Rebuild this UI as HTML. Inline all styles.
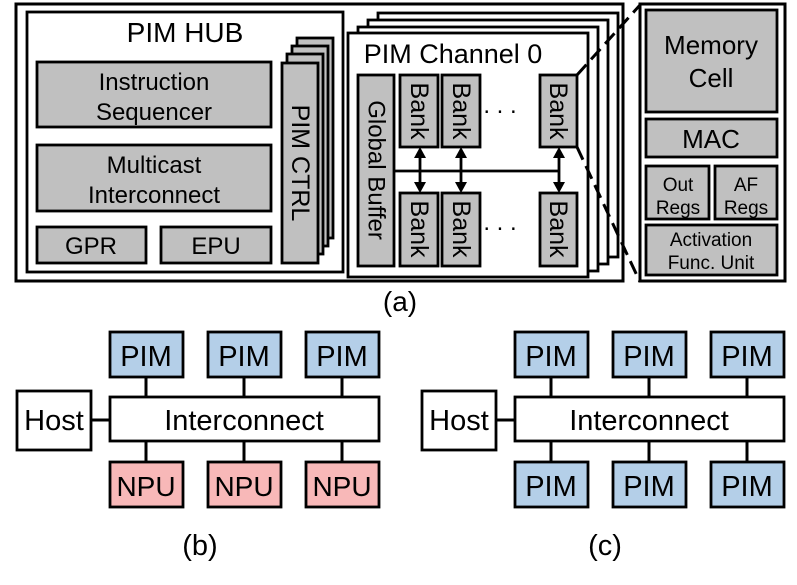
<!DOCTYPE html>
<html><head><style>body{margin:0;background:#fff}svg{display:block}text{font-family:"Liberation Sans",Arial,sans-serif;fill:#000}</style></head>
<body>
<svg width="797" height="585" viewBox="0 0 797 585" xmlns="http://www.w3.org/2000/svg">
<g stroke="#000" stroke-width="2.8">
<rect x="16" y="4" width="607" height="277" fill="#fff" stroke-width="3"/>
<rect x="27" y="12" width="316" height="260" fill="#fff"/>
<rect x="37" y="62" width="234" height="65" fill="#c0c0c0"/>
<rect x="37" y="145" width="234" height="66" fill="#c0c0c0"/>
<rect x="37" y="227" width="109" height="36" fill="#c0c0c0"/>
<rect x="161" y="227" width="110" height="36" fill="#c0c0c0"/>
<rect x="297" y="38" width="36" height="200" fill="#c0c0c0"/>
<rect x="292" y="46" width="36" height="200" fill="#c0c0c0"/>
<rect x="287" y="54" width="36" height="200" fill="#c0c0c0"/>
<rect x="282" y="63" width="36" height="200" fill="#c0c0c0"/>
<rect x="378" y="13" width="240" height="244" fill="#fff"/>
<rect x="368" y="20" width="240" height="244" fill="#fff"/>
<rect x="358" y="27" width="240" height="244" fill="#fff"/>
<rect x="348" y="33" width="240" height="244" fill="#fff"/>
<rect x="358" y="75" width="36" height="191" fill="#c0c0c0"/>
<rect x="400" y="75" width="38" height="72" fill="#c0c0c0"/>
<rect x="442" y="75" width="38" height="72" fill="#c0c0c0"/>
<rect x="540" y="75" width="37" height="72" fill="#c0c0c0"/>
<rect x="400" y="193" width="38" height="73" fill="#c0c0c0"/>
<rect x="442" y="193" width="38" height="73" fill="#c0c0c0"/>
<rect x="540" y="193" width="37" height="73" fill="#c0c0c0"/>
<line x1="394" y1="171" x2="559" y2="171"/>
<line x1="420" y1="155" x2="420" y2="185"/>
<line x1="461" y1="155" x2="461" y2="185"/>
<line x1="559" y1="155" x2="559" y2="185"/>
<rect x="640" y="4" width="145" height="277" fill="#fff" stroke-width="3"/>
<rect x="646" y="10" width="131" height="102" fill="#c0c0c0"/>
<rect x="646" y="119" width="131" height="38" fill="#c0c0c0"/>
<rect x="646" y="166" width="63" height="53" fill="#c0c0c0"/>
<rect x="715" y="166" width="62" height="53" fill="#c0c0c0"/>
<rect x="646" y="225" width="131" height="50" fill="#c0c0c0"/>
<line x1="577" y1="75" x2="640" y2="5" stroke-width="3" stroke-dasharray="14,7"/>
<line x1="577" y1="147" x2="640" y2="282" stroke-width="3" stroke-dasharray="14,7"/>
</g>
<g fill="#000">
<polygon points="420,147 414,158 426,158"/><polygon points="420,193 414,182 426,182"/>
<polygon points="461,147 455,158 467,158"/><polygon points="461,193 455,182 467,182"/>
<polygon points="559,147 553,158 565,158"/><polygon points="559,193 553,182 565,182"/>
</g>
<g font-size="24" text-anchor="middle">
<text x="185" y="42" font-size="28">PIM HUB</text>
<text x="154" y="90">Instruction</text><text x="154" y="120">Sequencer</text>
<text x="154" y="173">Multicast</text><text x="154" y="203">Interconnect</text>
<text x="91" y="254">GPR</text><text x="216" y="254">EPU</text>
<text x="453" y="63" font-size="27">PIM Channel 0</text>
<text x="711" y="54" font-size="26">Memory</text><text x="711" y="87" font-size="26">Cell</text>
<text x="711" y="148" font-size="26">MAC</text>
<text x="678" y="191" font-size="19">Out</text><text x="678" y="214" font-size="19">Regs</text>
<text x="746" y="191" font-size="19">AF</text><text x="746" y="214" font-size="19">Regs</text>
<text x="711" y="246" font-size="19">Activation</text><text x="711" y="269" font-size="19">Func. Unit</text>
<text x="500" y="113">. . .</text><text x="500" y="230">. . .</text>
</g>
<g text-anchor="middle" dominant-baseline="central">
<text transform="translate(300,163) rotate(90)" font-size="25">PIM CTRL</text>
<text transform="translate(376,170) rotate(90)" font-size="24">Global Buffer</text>
<text transform="translate(419,111) rotate(90)" font-size="25">Bank</text>
<text transform="translate(461,111) rotate(90)" font-size="25">Bank</text>
<text transform="translate(558,111) rotate(90)" font-size="25">Bank</text>
<text transform="translate(419,229) rotate(90)" font-size="25">Bank</text>
<text transform="translate(461,229) rotate(90)" font-size="25">Bank</text>
<text transform="translate(558,229) rotate(90)" font-size="25">Bank</text>
</g>
<text x="400" y="311" font-size="28" text-anchor="middle">(a)</text>
<g stroke="#000" stroke-width="3">
<line x1="146" y1="377" x2="146" y2="462"/><line x1="244" y1="377" x2="244" y2="462"/><line x1="342" y1="377" x2="342" y2="462"/>
<line x1="91" y1="420" x2="110" y2="420"/>
<line x1="551" y1="377" x2="551" y2="462"/><line x1="649" y1="377" x2="649" y2="462"/><line x1="747" y1="377" x2="747" y2="462"/>
<line x1="496" y1="420" x2="515" y2="420"/>
</g>
<g stroke="#000" stroke-width="2.8">
<rect x="110" y="332" width="73" height="45" fill="#b4cfe8"/><rect x="208" y="332" width="73" height="45" fill="#b4cfe8"/><rect x="306" y="332" width="73" height="45" fill="#b4cfe8"/>
<rect x="110" y="397" width="269" height="44" fill="#fff"/>
<rect x="17" y="391" width="74" height="59" fill="#fff"/>
<rect x="110" y="462" width="73" height="45" fill="#f8b8b8"/><rect x="208" y="462" width="73" height="45" fill="#f8b8b8"/><rect x="306" y="462" width="73" height="45" fill="#f8b8b8"/>
<rect x="515" y="332" width="73" height="45" fill="#b4cfe8"/><rect x="613" y="332" width="73" height="45" fill="#b4cfe8"/><rect x="711" y="332" width="73" height="45" fill="#b4cfe8"/>
<rect x="515" y="397" width="269" height="44" fill="#fff"/>
<rect x="422" y="391" width="74" height="59" fill="#fff"/>
<rect x="515" y="462" width="73" height="45" fill="#b4cfe8"/><rect x="613" y="462" width="73" height="45" fill="#b4cfe8"/><rect x="711" y="462" width="73" height="45" fill="#b4cfe8"/>
</g>
<g font-size="29" text-anchor="middle">
<text x="146" y="366">PIM</text><text x="244" y="366">PIM</text><text x="342" y="366">PIM</text>
<text x="244" y="430">Interconnect</text><text x="54" y="430">Host</text>
<text x="146" y="496" font-size="28">NPU</text><text x="244" y="496" font-size="28">NPU</text><text x="342" y="496" font-size="28">NPU</text>
<text x="551" y="366">PIM</text><text x="649" y="366">PIM</text><text x="747" y="366">PIM</text>
<text x="649" y="430">Interconnect</text><text x="459" y="430">Host</text>
<text x="551" y="496">PIM</text><text x="649" y="496">PIM</text><text x="747" y="496">PIM</text>
<text x="200" y="555">(b)</text><text x="605" y="555">(c)</text>
</g>
</svg>
</body></html>
